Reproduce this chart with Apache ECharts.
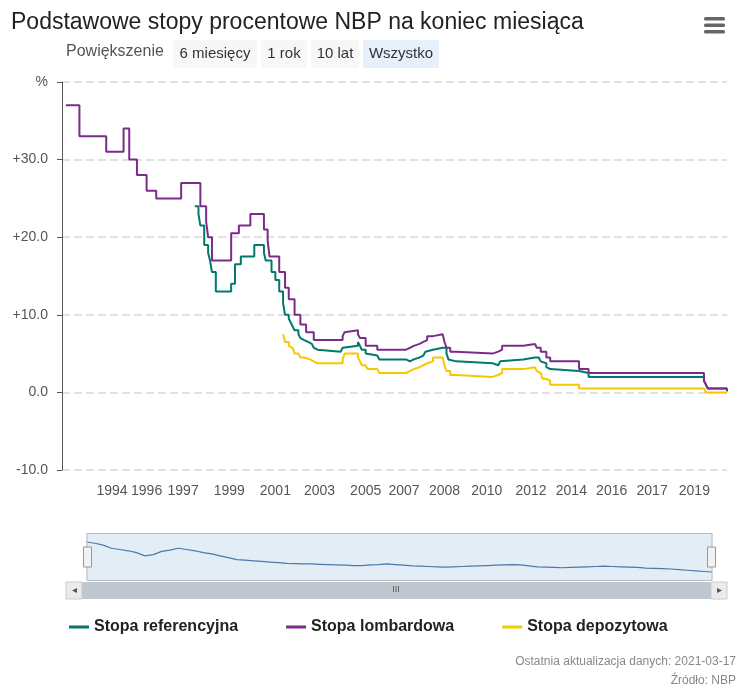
<!DOCTYPE html>
<html>
<head>
<meta charset="utf-8">
<script src="https://cdn.jsdelivr.net/npm/echarts@6/dist/echarts.min.js"></script>
<style>
html,body{margin:0;padding:0;background:#fff;}
#main{width:756px;height:692px;}
</style>
</head>
<body>
<div id="main"></div>
<script>
// punkty zmian stóp (data, wartość) - linia schodkowa
var lombardDates = ['1992-07','1993-02','1994-04','1995-01','1995-04','1995-08','1996-01','1996-06','1997-07','1998-05','1998-08','1998-09','1998-11','1999-09','2000-01','2000-07','2001-02','2001-04','2001-05','2001-10','2002-01','2002-03','2002-06','2002-09','2002-12','2003-04','2004-07','2004-08','2004-09','2005-03','2005-04','2005-07','2006-01','2007-04','2007-06','2007-08','2007-11','2008-01','2008-03','2008-06','2008-11','2008-12','2009-01','2009-03','2009-06','2011-01','2011-04','2011-06','2012-05','2012-11','2012-12','2013-02','2013-05','2013-07','2014-10','2015-03','2020-03','2020-04','2020-05','2021-03'];
var lombardValues = [37,33,31,34,30,28,26,25,27,24,22,20,17,20.5,21.5,23,21,19.5,17.5,15.5,13.5,12,10,8.75,7.75,6.75,7.25,7.75,8,7.5,7,6,5.5,5.75,6,6.25,6.5,6.75,7.25,7.5,7.25,6.5,5.75,5.25,5,5.25,5.5,6,6.25,6,5.75,5.25,4.5,4,3,2.5,1.5,1,0.5,0.5];

var refDates = ['1998-02','1998-04','1998-05','1998-07','1998-09','1998-10','1998-11','1999-01','1999-09','1999-11','2000-02','2000-09','2001-02','2001-03','2001-06','2001-08','2001-10','2001-12','2002-01','2002-03','2002-04','2002-05','2002-06','2002-08','2002-09','2002-10','2002-11','2003-01','2003-02','2003-03','2003-04','2003-05','2003-06','2004-06','2004-07','2004-08','2005-03','2005-04','2005-05','2005-07','2005-08','2006-01','2006-02','2007-04','2007-06','2007-08','2007-11','2008-01','2008-02','2008-03','2008-06','2008-11','2008-12','2009-01','2009-02','2009-03','2009-06','2011-01','2011-04','2011-05','2011-06','2012-05','2012-11','2012-12','2013-01','2013-02','2013-03','2013-05','2013-06','2013-07','2014-10','2015-03','2020-03','2020-04','2020-05','2021-03'];
var refValues = [24,23,21.5,19,18,17,15.5,13,14,16.5,17.5,19,18,17,15.5,14.5,13,11.5,10,9.5,9,8.5,8,7.5,7,6.75,6.5,6.5,6.25,6,5.75,5.5,5.25,5.25,5.75,6,6.5,6,5.5,5,4.75,4.5,4.25,4,4.25,4.5,4.75,5,5.25,5.5,5.75,6,5.75,5,4.25,4,3.75,3.5,3.75,4,4.25,4.5,4.75,4.5,4.25,4,3.75,3.25,3,2.75,2.5,2,1.5,1,0.5,0.1,0.1];

var depDates = ['2001-12','2002-01','2002-03','2002-04','2002-05','2002-06','2002-08','2002-09','2002-11','2003-02','2003-04','2003-06','2004-07','2004-08','2005-03','2005-04','2005-05','2005-07','2005-08','2006-01','2006-02','2007-04','2007-06','2007-08','2007-11','2008-01','2008-03','2008-06','2008-11','2008-12','2009-01','2009-03','2009-06','2011-01','2011-04','2011-06','2012-05','2012-11','2012-12','2013-01','2013-02','2013-03','2013-05','2013-07','2014-10','2020-03','2020-04','2020-05','2021-03'];
var depValues = [7.5,6.5,6,5.75,5.5,5,4.75,4.5,4.25,4,3.75,3.75,4.25,5,4.5,4,3.5,3.25,3,2.75,2.5,2.75,3,3.25,3.5,3.75,4,4.5,4.25,3.5,2.75,2.25,2,2.25,2.5,3,3.25,3,2.75,2.5,2.25,1.75,1.5,1,0.5,0.5,0,0,0];

// etykiety osi czasu (jak w oryginale)
var tickDates = ['1994-07','1996-01','1997-08','1999-08','2001-08','2003-07','2005-07','2007-03','2008-12','2010-10','2012-09','2014-06','2016-03','2017-12','2019-10'];

function ts(d) { return +new Date(d + '-01T00:00:00Z'); }
function pairs(d, v) {
    return d.map(function(x, i){ return [ts(x), v[i]]; });
}
var tickValues = tickDates.map(ts);

var font = "'Liberation Sans Narrow','Liberation Sans',sans-serif";
var chart = echarts.init(document.getElementById('main'));

var btn = function(x, w, label, active) {
    return {
        type: 'group', left: x, top: 40,
        children: [
            {type: 'rect', shape: {x: 0, y: 0, width: w, height: 28}, style: {fill: active ? '#e6f0fa' : '#f7f7f7'}},
            {type: 'text', x: w / 2, y: 14, style: {text: label, fill: '#333', font: '15px ' + font, align: 'center', verticalAlign: 'middle'}}
        ]
    };
};

var option = {
    animation: false,
    color: ['#00796b', '#7b2c8a', '#f5c800'],
    title: {
        text: 'Podstawowe stopy procentowe NBP na koniec miesiąca',
        left: 6, top: 6,
        textStyle: {fontFamily: font, fontSize: 23, fontWeight: 'normal', color: '#222'}
    },
    legend: {
        bottom: 52, left: 64, itemGap: 48,
        icon: 'rect', itemWidth: 20, itemHeight: 3,
        textStyle: {fontFamily: font, fontSize: 16, fontWeight: 'bold', color: '#222'},
        data: ['Stopa referencyjna', 'Stopa lombardowa', 'Stopa depozytowa']
    },
    grid: {left: 62, right: 29, top: 82, height: 388},
    xAxis: {
        type: 'value',
        min: ts('1992-05'), max: ts('2021-03'),
        axisLine: {show: false},
        axisTick: {show: false},
        splitLine: {show: false},
        axisLabel: {
            customValues: tickValues,
            formatter: function(v){ return new Date(v).getUTCFullYear(); },
            fontFamily: font, fontSize: 14, color: '#555', margin: 14
        }
    },
    yAxis: {
        type: 'value', min: -10, max: 40, interval: 10,
        axisLabel: {
            fontFamily: font, fontSize: 14, color: '#555', margin: 14,
            formatter: function(v){ return v === 40 ? '%' : (v > 0 ? '+' : '') + v.toFixed(1); }
        },
        splitLine: {lineStyle: {type: [8, 4], color: '#d8d8d8', width: 1.5}}
    },
    dataZoom: [{
        type: 'slider', xAxisIndex: 0, start: 0, end: 100,
        filterMode: 'none',
        left: 84, right: 46, top: 533, height: 48,
        showDetail: false,
        borderColor: '#bbb',
        backgroundColor: '#fff',
        fillerColor: 'rgba(102,153,204,0.18)',
        dataBackground: {
            lineStyle: {color: '#4572a7', width: 1.2, opacity: 1},
            areaStyle: {color: 'rgba(0,0,0,0)'}
        },
        selectedDataBackground: {
            lineStyle: {color: '#4572a7', width: 1.2},
            areaStyle: {color: 'rgba(0,0,0,0)'}
        },
        handleIcon: 'path://M0,0 L8,0 L8,20 L0,20 Z',
        handleSize: 20,
        handleStyle: {color: '#f2f2f2', borderColor: '#999'},
        moveHandleSize: 0,
        brushSelect: false
    }],
    graphic: [
        {type: 'text', left: 66, top: 44, style: {text: 'Powiększenie', fill: '#555', font: '16px ' + font}},
        btn(173, 84, '6 miesięcy', false),
        btn(261, 46, '1 rok', false),
        btn(311, 48, '10 lat', false),
        btn(363, 76, 'Wszystko', true),
        {type: 'group', left: 704, top: 17, children: [
            {type: 'rect', shape: {x: 0, y: 0, width: 21, height: 3.5, r: 1.5}, style: {fill: '#666'}},
            {type: 'rect', shape: {x: 0, y: 6.5, width: 21, height: 3.5, r: 1.5}, style: {fill: '#666'}},
            {type: 'rect', shape: {x: 0, y: 13, width: 21, height: 3.5, r: 1.5}, style: {fill: '#666'}}
        ]},
        {type: 'text', left: 138, top: 564, style: {text: '2000', fill: '#888', font: '13px ' + font}},
        {type: 'text', left: 408, top: 564, style: {text: '2010', fill: '#888', font: '13px ' + font}},
        {type: 'text', left: 683, top: 564, style: {text: '2020', fill: '#888', font: '13px ' + font}},
        {type: 'rect', shape: {x: 66, y: 582, width: 661, height: 17}, style: {fill: '#bfc8d1'}},
        {type: 'rect', shape: {x: 66, y: 582, width: 16, height: 17}, style: {fill: '#ebebeb', stroke: '#ccc'}},
        {type: 'rect', shape: {x: 711, y: 582, width: 16, height: 17}, style: {fill: '#ebebeb', stroke: '#ccc'}},
        {type: 'text', x: 74, y: 590, style: {text: '◂', fill: '#555', font: '10px sans-serif', align: 'center', verticalAlign: 'middle'}},
        {type: 'text', x: 719, y: 590, style: {text: '▸', fill: '#555', font: '10px sans-serif', align: 'center', verticalAlign: 'middle'}},
        {type: 'text', x: 396, y: 590, style: {text: 'III', fill: '#555', font: '9px sans-serif', align: 'center', verticalAlign: 'middle'}},
        {type: 'text', right: 20, top: 656, style: {text: 'Ostatnia aktualizacja danych: 2021-03-17', fill: '#888', font: '12px ' + font}},
        {type: 'text', right: 20, top: 675, style: {text: 'Źródło: NBP', fill: '#888', font: '12px ' + font}}
    ],
    series: [
        {name: 'Stopa referencyjna', type: 'line', step: 'end', showSymbol: false, lineStyle: {width: 2}, data: pairs(refDates, refValues)},
        {name: 'Stopa lombardowa', type: 'line', step: 'end', showSymbol: false, lineStyle: {width: 2}, data: pairs(lombardDates, lombardValues)},
        {name: 'Stopa depozytowa', type: 'line', step: 'end', showSymbol: false, lineStyle: {width: 2}, data: pairs(depDates, depValues)}
    ]
};
chart.setOption(option);
</script>
</body>
</html>
